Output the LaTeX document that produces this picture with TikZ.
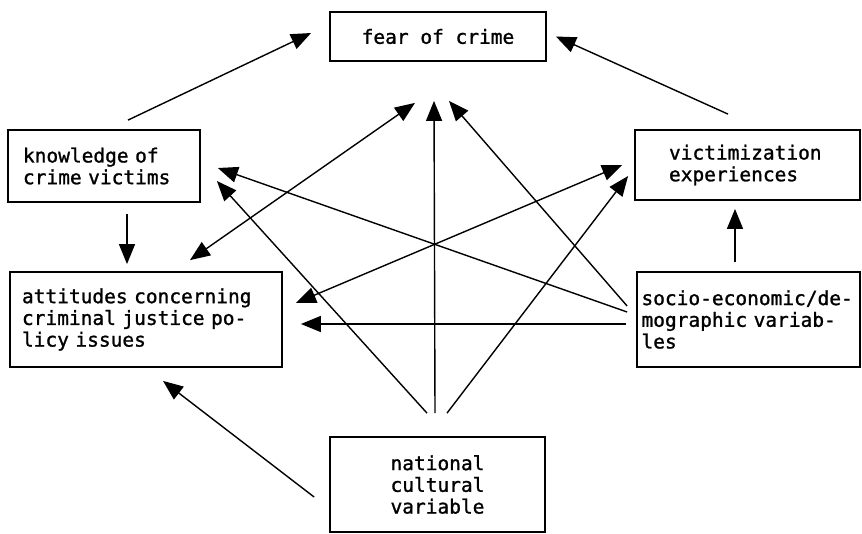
\documentclass[tikz,border=0pt]{standalone}
\usepackage{fontspec}
\setmonofont[FakeBold=1.2]{DejaVu Sans Mono}
\usetikzlibrary{arrows.meta,positioning}
\tikzset{bigtip/.tip={Triangle[length=20pt,width=16pt]}}
\tikzset{factor/.style={draw, line width=1.8pt, align=left, inner ysep=0pt, font=\ttfamily\fontsize{19.5}{21.7}\selectfont}}
\tikzset{link/.style={line width=1.4pt}}

\begin{document}
\begin{tikzpicture}[x=1pt, y=-1pt]
\useasboundingbox (0,0) rectangle (862,533);
% Nodes
\node (fear) [factor, align=center, minimum width=216pt, minimum height=49pt] at (438,36.5) {fear of crime};
\node (knowledge) [factor, text width=162pt, inner xsep=15pt, minimum height=72pt] at (104,166) {knowledge of\\crime victims};
\node (victim) [factor, text width=157pt, inner xsep=34pt, minimum height=70pt] at (747.5,165) {victimization\\experiences};
\node (attitudes) [factor, text width=248pt, inner xsep=12pt, minimum height=95pt] at (146,319.5) {attitudes concerning\\criminal justice po-\\licy issues};
\node (socio) [factor, text width=214pt, inner xsep=4.5pt, minimum height=95pt] at (748.5,319.5) {socio-economic/de-\\mographic variab-\\les};
\node (national) [factor, align=center, minimum width=215pt, minimum height=95pt] at (437.5,484.5) {national\\cultural\\variable};

% Connectors
\begin{scope}[link, -bigtip]
\draw ([xshift=24pt,yshift=9pt]knowledge.north) -- ([xshift=-18pt,yshift=3.5pt]fear.west);
\draw ([xshift=-19.5pt,yshift=15pt]victim.north) -- ([xshift=9pt]fear.east);
\draw ([xshift=23pt,yshift=-11pt]knowledge.south) -- ([xshift=-19pt,yshift=7pt]attitudes.north);
\draw ([xshift=-13.5pt,yshift=9pt]socio.north) -- ([xshift=-12.5pt,yshift=-8pt]victim.south);
\draw ([xshift=-15pt,yshift=-12.5pt]national.west) -- ([xshift=17pt,yshift=-13pt]attitudes.south);
\draw ([xshift=-10.5pt,yshift=23pt]national.north) -- ([xshift=16pt,yshift=-15pt]knowledge.east);
\draw ([xshift=-2.5pt,yshift=23pt]national.north) -- ([xshift=-4pt,yshift=-39pt]fear.south);
\draw ([xshift=9.5pt,yshift=23pt]national.north) -- ([xshift=-6pt,yshift=-11pt]victim.west);
\draw ([xshift=-9pt,yshift=13.5pt]socio.west) -- ([xshift=11pt,yshift=-39pt]fear.south);
\draw ([xshift=-9pt,yshift=7.5pt]socio.west) -- ([xshift=17pt,yshift=-2pt]knowledge.east);
\draw ([xshift=-10pt,yshift=-4.5pt]socio.west) -- ([xshift=18pt,yshift=-4.5pt]attitudes.east);
\end{scope}

\begin{scope}[link, bigtip-bigtip]
\draw ([xshift=44pt,yshift=11pt]attitudes.north) -- ([xshift=-23pt,yshift=-41pt]fear.south);
\draw ([xshift=13pt,yshift=16.5pt]attitudes.east) -- ([xshift=-12pt]victim.west);
\end{scope}

\end{tikzpicture}
\end{document}
